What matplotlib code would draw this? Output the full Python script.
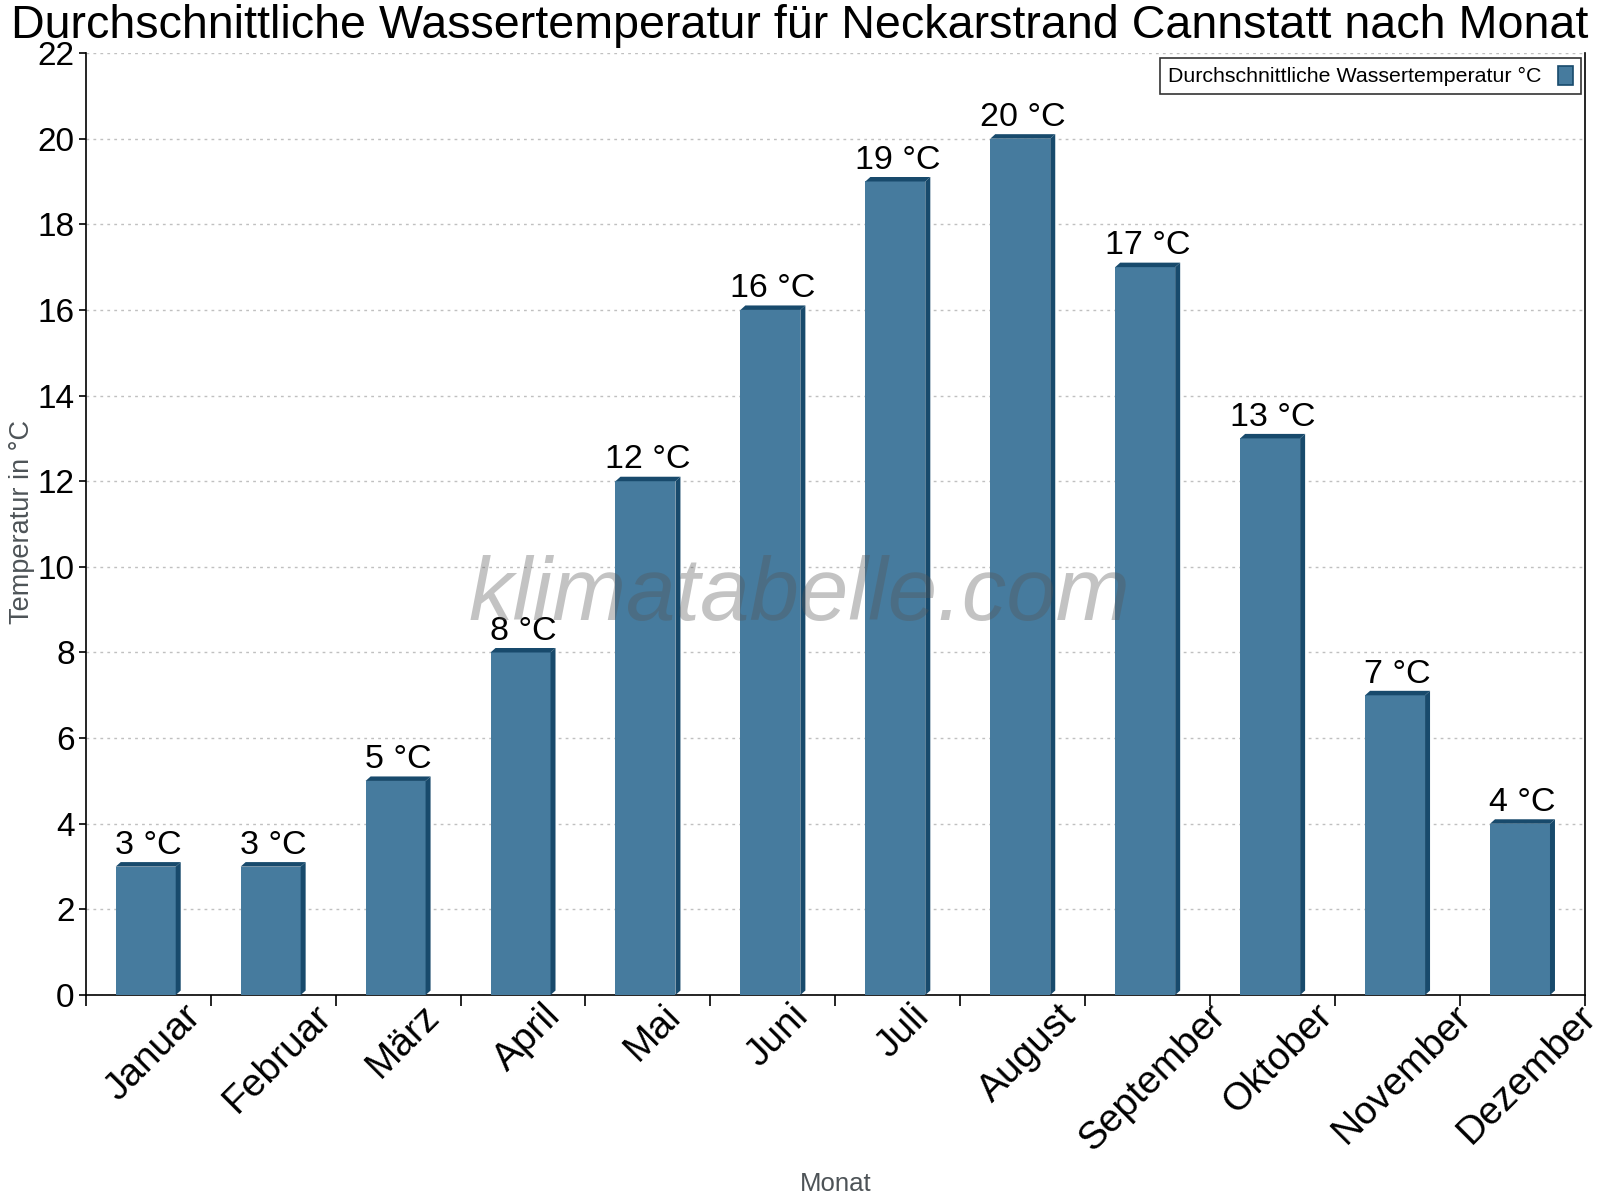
import matplotlib
matplotlib.use("Agg")
import matplotlib.pyplot as plt  # plotting
from matplotlib.patches import Polygon, Patch
import numpy as np

plt.rcParams['font.family'] = ['Liberation Sans', 'DejaVu Sans']

# Data
months = ["Januar", "Februar", "März", "April", "Mai", "Juni", "Juli",
          "August", "September", "Oktober", "November", "Dezember"]
water_temp = [3, 3, 5, 8, 12, 16, 19, 20, 17, 13, 7, 4]
y_ticks = list(range(0, 23, 2))

title = "Durchschnittliche Wassertemperatur für Neckarstrand Cannstatt nach Monat"
series_name = "Durchschnittliche Wassertemperatur °C"

front_color = "#467b9e"
dark_color = "#184a6c"
label_gray = "#4d5357"

fig = plt.figure(figsize=(16, 12), dpi=100)
ax = fig.add_axes([0.0536, 0.1708, 0.937, 0.7850])

n = len(months)
x = np.arange(n)
w = 0.48      # front face width (categories)
dx = 0.04     # depth in x
dy = 0.105    # depth in y

# front faces
x0 = x - (w + dx) / 2
ax.bar(x0, water_temp, width=w, align='edge', color=front_color, zorder=3)

# side and top faces for the 3D look, plus value labels
for xi, v in zip(x0, water_temp):
    x1 = xi + w
    side = Polygon([(x1, 0), (x1 + dx, dy), (x1 + dx, v + dy), (x1, v)],
                   closed=True, facecolor=dark_color, edgecolor='none', zorder=3)
    top = Polygon([(xi, v), (xi + dx, v + dy), (x1 + dx, v + dy), (x1, v)],
                  closed=True, facecolor=dark_color, edgecolor='none', zorder=3)
    ax.add_patch(side)
    ax.add_patch(top)
    ax.text(xi + (w + dx) / 2, v + dy + 0.03, f"{v} °C", ha='center', va='bottom',
            fontsize=24.5, color='black', zorder=4)

ax.set_xlim(-0.5, n - 0.5)
ax.set_ylim(0, 22)

# y axis
ax.set_yticks(y_ticks)
ax.tick_params(axis='y', labelsize=24, direction='out', length=5, width=1.2, pad=3)
ax.yaxis.grid(True, linestyle=(0, (2, 3)), color='#c0c0c0', linewidth=1, zorder=0)
ax.set_axisbelow(True)

# x axis: tick marks at category boundaries, labels centred under the bars
ax.set_xticks(np.arange(n + 1) - 0.5)
ax.set_xticklabels([])
ax.tick_params(axis='x', which='major', direction='out', length=8, width=1.2)
ax.set_xticks(x + 0.04, minor=True)
ax.set_xticklabels(months, minor=True, rotation=45, ha='center', va='top',
                   fontsize=28)
ax.tick_params(axis='x', which='minor', length=0, pad=2)

for side in ['left', 'bottom', 'right']:
    ax.spines[side].set_color('black')
    ax.spines[side].set_linewidth(1.2)
ax.spines['top'].set_visible(False)

ax.set_ylabel("Temperatur in °C", fontsize=19.5, color=label_gray)
ax.yaxis.set_label_coords(-0.034, 0.502)
ax.set_xlabel("Monat", fontsize=18.5, color=label_gray)
ax.xaxis.set_label_coords(0.5, -0.188)

fig.suptitle(title, fontsize=33.6, y=0.997, va='top')

# watermark
ax.text(0.476, 0.4225, "klimatabelle.com", transform=ax.transAxes, ha='center',
        va='center', fontsize=64, style='italic', color='#555555', alpha=0.35,
        zorder=5)

# legend
handle = Patch(facecolor=front_color, edgecolor=dark_color, linewidth=1.2)
leg = ax.legend([handle], [series_name], loc='upper right', fontsize=15.4,
                markerfirst=False, frameon=True, fancybox=False,
                edgecolor='black', handlelength=0.7, handleheight=1.0,
                borderpad=0.35, borderaxespad=0, bbox_to_anchor=(0.9973, 0.9947))
leg.get_frame().set_linewidth(1.2)

fig.savefig("out.png", dpi=100)
